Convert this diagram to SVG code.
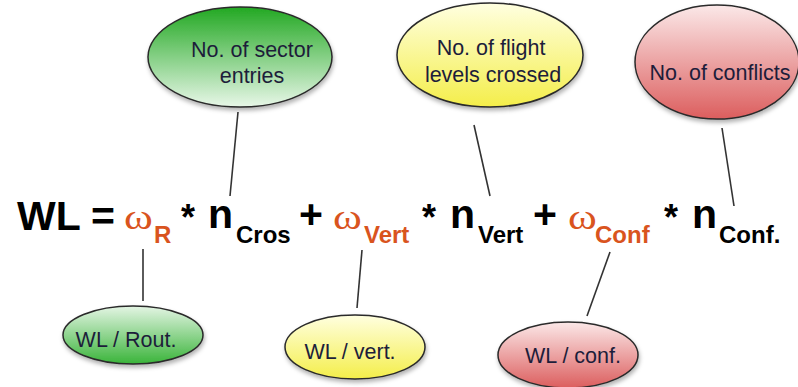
<svg xmlns="http://www.w3.org/2000/svg" width="798" height="387" viewBox="0 0 798 387">
<style>
.lbl{font-family:"Liberation Sans",Arial,sans-serif;font-size:21.5px;fill:#1d1d3a;text-anchor:middle}
.el{stroke:#2a2a2a;stroke-width:1.5}
.main{font-family:"Liberation Sans",Arial,sans-serif;font-weight:bold;font-size:41px;fill:#000}
.sub{font-family:"Liberation Sans",Arial,sans-serif;font-weight:bold;font-size:24px;fill:#000}
.w{font-family:"Liberation Serif","Times New Roman",serif;font-size:35px;fill:#d9541e}
.o{fill:#d9541e}
.con line{stroke:#333;stroke-width:1.6}
</style>
<defs>
<linearGradient id="gTop" x1="0" y1="0" x2="0" y2="1"><stop offset="0" stop-color="#22a822"/><stop offset="1" stop-color="#e8f7e8"/></linearGradient>
<linearGradient id="gBot" x1="0" y1="0" x2="0" y2="1"><stop offset="0" stop-color="#e4f5e4"/><stop offset="1" stop-color="#3ab43a"/></linearGradient>
<linearGradient id="yel" x1="0" y1="0" x2="0" y2="1"><stop offset="0" stop-color="#ffffe0"/><stop offset="1" stop-color="#f4ee4a"/></linearGradient>
<linearGradient id="red" x1="0" y1="0" x2="0" y2="1"><stop offset="0" stop-color="#fbe8e8"/><stop offset="1" stop-color="#dc5e5e"/></linearGradient>
<filter id="sh" x="-10%" y="-10%" width="125%" height="130%"><feDropShadow dx="1" dy="3" stdDeviation="2" flood-color="#000" flood-opacity="0.3"/></filter>
</defs>
<rect width="798" height="387" fill="#fff"/>
<g class="con">
<line x1="238" y1="112" x2="230" y2="196"/>
<line x1="474" y1="125" x2="490" y2="196"/>
<line x1="722" y1="128" x2="734" y2="206"/>
<line x1="143" y1="249" x2="143" y2="301"/>
<line x1="362" y1="250" x2="357" y2="308"/>
<line x1="610" y1="252" x2="587" y2="316"/>
</g>
<g id="n-sector">
<ellipse class="el" cx="240" cy="57" rx="92" ry="50" fill="url(#gTop)" filter="url(#sh)"/>
<text class="lbl" x="252" y="57">No. of sector</text>
<text class="lbl" x="252" y="83">entries</text>
</g>
<g id="n-flight">
<ellipse class="el" cx="490" cy="55" rx="93" ry="52" fill="url(#yel)" filter="url(#sh)"/>
<text class="lbl" x="491" y="55">No. of flight</text>
<text class="lbl" x="493" y="82">levels crossed</text>
</g>
<g id="n-conflicts">
<ellipse class="el" cx="717" cy="62" rx="82" ry="57" fill="url(#red)" filter="url(#sh)"/>
<text class="lbl" x="720" y="80">No. of conflicts</text>
</g>
<g id="formula">
<text class="main" x="17" y="230">WL</text>
<text class="main" x="91" y="230">=</text>
<text class="w" transform="translate(124 229) scale(1.25 1)">ω</text>
<text class="sub o" x="154" y="243">R</text>
<text class="main" x="181" y="230" style="font-size:36px">*</text>
<text class="main" x="208" y="228">n</text>
<text class="sub" x="236" y="243">Cros</text>
<text class="main" x="299" y="228">+</text>
<text class="w" transform="translate(333 229) scale(1.25 1)">ω</text>
<text class="sub o" x="364" y="243">Vert</text>
<text class="main" x="422" y="230" style="font-size:36px">*</text>
<text class="main" x="450" y="228">n</text>
<text class="sub" x="478" y="243">Vert</text>
<text class="main" x="533" y="228">+</text>
<text class="w" transform="translate(568 229) scale(1.25 1)">ω</text>
<text class="sub o" x="595" y="243">Conf</text>
<text class="main" x="664" y="230" style="font-size:36px">*</text>
<text class="main" x="692" y="228">n</text>
<text class="sub" x="719" y="243">Conf.</text>
</g>
<g id="n-rout">
<ellipse class="el" cx="133" cy="335" rx="70" ry="29" fill="url(#gBot)" filter="url(#sh)"/>
<text class="lbl" x="126" y="347">WL / Rout.</text>
</g>
<g id="n-vert">
<ellipse class="el" cx="355" cy="347" rx="70" ry="32" fill="url(#yel)" filter="url(#sh)"/>
<text class="lbl" x="350" y="359">WL / vert.</text>
</g>
<g id="n-conf">
<ellipse class="el" cx="568" cy="355" rx="70" ry="33" fill="url(#red)" filter="url(#sh)"/>
<text class="lbl" x="573" y="363">WL / conf.</text>
</g>
</svg>
